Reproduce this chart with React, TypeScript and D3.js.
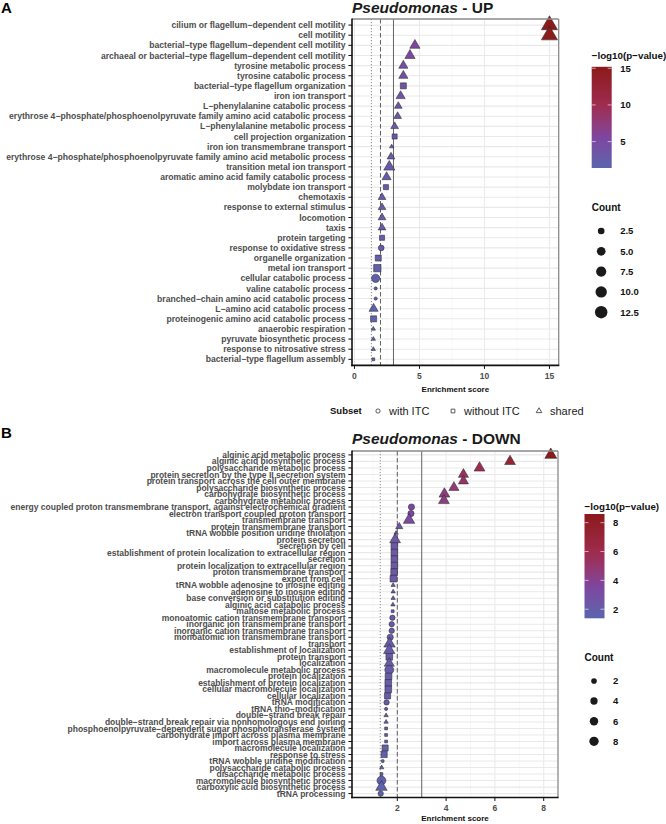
import React from 'react';
import * as d3 from 'd3';

// ---------- Pseudomonas - UP ----------
const upTerms = [
  'cilium or flagellum\u2212dependent cell motility',
  'cell motility',
  'bacterial\u2212type flagellum\u2212dependent cell motility',
  'archaeal or bacterial\u2212type flagellum\u2212dependent cell motility',
  'tyrosine metabolic process',
  'tyrosine catabolic process',
  'bacterial\u2212type flagellum organization',
  'iron ion transport',
  'L\u2212phenylalanine catabolic process',
  'erythrose 4\u2212phosphate/phosphoenolpyruvate family amino acid catabolic process',
  'L\u2212phenylalanine metabolic process',
  'cell projection organization',
  'iron ion transmembrane transport',
  'erythrose 4\u2212phosphate/phosphoenolpyruvate family amino acid metabolic process',
  'transition metal ion transport',
  'aromatic amino acid family catabolic process',
  'molybdate ion transport',
  'chemotaxis',
  'response to external stimulus',
  'locomotion',
  'taxis',
  'protein targeting',
  'response to oxidative stress',
  'organelle organization',
  'metal ion transport',
  'cellular catabolic process',
  'valine catabolic process',
  'branched\u2212chain amino acid catabolic process',
  'L\u2212amino acid catabolic process',
  'proteinogenic amino acid catabolic process',
  'anaerobic respiration',
  'pyruvate biosynthetic process',
  'response to nitrosative stress',
  'bacterial\u2212type flagellum assembly',
];
const upScore = [15.0, 15.0, 4.65, 4.27, 3.76, 3.76, 3.76, 3.55, 3.37, 3.32, 3.09, 3.09, 2.86, 2.81, 2.68, 2.47, 2.42,
  2.12, 2.12, 2.12, 2.12, 2.12, 2.06, 1.83, 1.76, 1.63, 1.63, 1.63, 1.47, 1.47, 1.45, 1.45, 1.45, 1.45];
const upCount = [13, 13, 4, 4, 3, 3, 3, 3, 2, 2, 2, 2, 1, 2, 5, 3, 2, 2, 2, 2, 2, 2, 2, 3, 5, 5, 1, 1, 3, 3, 1, 1, 1, 1];
const upSubset = ['shared', 'shared', 'shared', 'shared', 'shared', 'shared', 'without ITC', 'shared', 'shared', 'shared',
  'shared', 'without ITC', 'shared', 'shared', 'shared', 'shared', 'without ITC', 'shared', 'shared', 'shared', 'shared',
  'without ITC', 'with ITC', 'without ITC', 'without ITC', 'with ITC', 'with ITC', 'with ITC', 'shared', 'without ITC',
  'shared', 'shared', 'shared', 'without ITC'];
const upLogP = [15.2, 15.0, 5.6, 5.3, 4.3, 4.3, 4.2, 4.0, 3.8, 3.7, 3.5, 3.5, 3.3, 3.2, 3.1, 2.9, 2.8, 2.6, 2.6, 2.6, 2.6,
  2.5, 2.4, 2.3, 2.2, 2.1, 1.9, 1.9, 1.8, 1.8, 1.6, 1.5, 1.5, 1.4];
const upXTicks = [0, 5, 10, 15];
const upXMinor = [2.5, 7.5, 12.5];
const upColourBreaks = [5, 10, 15];
const upCountBreaks = [2.5, 5.0, 7.5, 10.0, 12.5];

// ---------- Pseudomonas - DOWN ----------
const downTerms = [
  'alginic acid metabolic process',
  'alginic acid biosynthetic process',
  'polysaccharide metabolic process',
  'protein secretion by the type II secretion system',
  'protein transport across the cell outer membrane',
  'polysaccharide biosynthetic process',
  'carbohydrate biosynthetic process',
  'carbohydrate metabolic process',
  'energy coupled proton transmembrane transport, against electrochemical gradient',
  'electron transport coupled proton transport',
  'transmembrane transport',
  'protein transmembrane transport',
  'tRNA wobble position uridine thiolation',
  'protein secretion',
  'secretion by cell',
  'establishment of protein localization to extracellular region',
  'secretion',
  'protein localization to extracellular region',
  'proton transmembrane transport',
  'export from cell',
  'tRNA wobble adenosine to inosine editing',
  'adenosine to inosine editing',
  'base conversion or substitution editing',
  'alginic acid catabolic process',
  'maltose metabolic process',
  'monoatomic cation transmembrane transport',
  'inorganic ion transmembrane transport',
  'inorganic cation transmembrane transport',
  'monoatomic ion transmembrane transport',
  'transport',
  'establishment of localization',
  'protein transport',
  'localization',
  'macromolecule metabolic process',
  'protein localization',
  'establishment of protein localization',
  'cellular macromolecule localization',
  'cellular localization',
  'tRNA modification',
  'tRNA thio\u2212modification',
  'double\u2212strand break repair',
  'double\u2212strand break repair via nonhomologous end joining',
  'phosphoenolpyruvate\u2212dependent sugar phosphotransferase system',
  'carbohydrate import across plasma membrane',
  'import across plasma membrane',
  'macromolecule localization',
  'response to stress',
  'tRNA wobble uridine modification',
  'polysaccharide catabolic process',
  'disaccharide metabolic process',
  'macromolecule biosynthetic process',
  'carboxylic acid biosynthetic process',
  'tRNA processing',
];
const downScore = [8.29, 6.62, 5.37, 4.71, 4.71, 4.32, 3.93, 3.91, 2.58, 2.56, 2.48, 2.08, 1.95, 1.91, 1.88, 1.88, 1.88,
  1.88, 1.87, 1.84, 1.83, 1.83, 1.83, 1.82, 1.81, 1.80, 1.77, 1.77, 1.71, 1.68, 1.67, 1.67, 1.67, 1.67, 1.64, 1.63, 1.63,
  1.60, 1.56, 1.54, 1.54, 1.54, 1.54, 1.54, 1.54, 1.50, 1.46, 1.40, 1.36, 1.35, 1.35, 1.35, 1.32];
const downCount = [8, 6, 6, 5, 5, 5, 6, 6, 3, 3, 7, 2, 1, 6, 5, 5, 5, 5, 5, 5, 1, 1, 1, 1, 1, 2, 2, 2, 3, 7, 7, 5, 5, 8, 5,
  5, 5, 4, 2, 1, 1, 1, 1, 1, 1, 4, 4, 1, 1, 1, 8, 7, 2];
const downSubset = ['shared', 'shared', 'shared', 'shared', 'shared', 'shared', 'shared', 'shared', 'with ITC', 'with ITC',
  'shared', 'shared', 'shared', 'shared', 'without ITC', 'without ITC', 'without ITC', 'without ITC', 'without ITC',
  'without ITC', 'shared', 'shared', 'shared', 'shared', 'without ITC', 'with ITC', 'with ITC', 'with ITC', 'with ITC',
  'shared', 'shared', 'without ITC', 'shared', 'with ITC', 'without ITC', 'without ITC', 'without ITC', 'without ITC',
  'with ITC', 'with ITC', 'shared', 'shared', 'without ITC', 'without ITC', 'without ITC', 'without ITC', 'without ITC',
  'with ITC', 'shared', 'without ITC', 'with ITC', 'shared', 'with ITC'];
const downLogP = [8.6, 7.1, 5.9, 5.2, 5.2, 4.8, 4.4, 4.4, 3.4, 3.4, 3.2, 2.7, 2.5, 2.5, 2.4, 2.4, 2.4, 2.4, 2.4, 2.3, 2.3,
  2.3, 2.3, 2.3, 2.2, 2.2, 2.2, 2.2, 2.1, 2.1, 2.1, 2.1, 2.1, 2.1, 2.0, 2.0, 2.0, 2.0, 1.9, 1.9, 1.9, 1.9, 1.9, 1.9, 1.9,
  1.8, 1.8, 1.7, 1.6, 1.6, 1.6, 1.5, 1.37];
const downXTicks = [2, 4, 6, 8];
const downXMinor = [1, 3, 5, 7];
const downColourBreaks = [2, 4, 6, 8];
const downCountBreaks = [2, 4, 6, 8];

// significance thresholds drawn as vertical lines
const refLines = [
  { value: 1.301, dash: '1.2 1.8', colour: '#8c8c8c', width: 1 },
  { value: 2, dash: '4.5 2.5', colour: '#4d4d4d', width: 0.9 },
  { value: 3, dash: null, colour: '#555555', width: 0.9 },
];

const subsetKeys = ['with ITC', 'without ITC', 'shared'];

const FONT = "'Liberation Sans', Arial, Helvetica, sans-serif";
const GREY_TEXT = '#4d4d4d';

function markPath(kind: string, r: number): string {
  if (kind === 'shared') {
    const t = r * 1.555;
    return `M0,${-t}L${t * 0.866},${t / 2}L${-t * 0.866},${t / 2}Z`;
  }
  if (kind === 'without ITC') {
    const h = r * 0.886;
    return `M${-h},${-h}H${h}V${h}H${-h}Z`;
  }
  return `M${r},0A${r},${r} 0 1 1 ${-r},0A${r},${r} 0 1 1 ${r},0Z`;
}

function colourScale(lo: number, hi: number) {
  const s = hi - lo;
  return d3
    .scaleLinear<string>()
    .domain([lo, lo + s * 0.3, lo + s * 0.62, hi])
    .range(['#5a64ae', '#7d46a0', '#9e2c4f', '#8b1a1a'])
    .interpolate(d3.interpolateLab)
    .clamp(true);
}

function radiusScale(limits: [number, number], rRange: [number, number]) {
  const t = d3.scaleLinear().domain(limits).range([0, 1]).clamp(true);
  return (c: number) => rRange[0] + (rRange[1] - rRange[0]) * Math.sqrt(t(c));
}

type PanelProps = {
  id: string;
  letter: string;
  letterY: number;
  titleTail: string;
  titleY: number;
  terms: string[];
  score: number[];
  count: number[];
  subset: string[];
  logp: number[];
  left: number;
  right: number;
  top: number;
  bottom: number;
  xDomain: [number, number];
  xTicks: number[];
  xMinor: number[];
  labelSize: number;
  tickLabelY: number;
  axisTitleY: number;
  countLimits: [number, number];
  rRange: [number, number];
  colourBreaks: number[];
  countBreaks: number[];
  countFormat: (v: number) => string;
  legendX: number;
  barTitleY: number;
  barTop: number;
  barBottom: number;
  countTitleY: number;
  countKeyY: number[];
};

function Panel(p: PanelProps) {
  const x = d3.scaleLinear().domain(p.xDomain).range([p.left, p.right]);
  const y = d3.scalePoint<string>().domain(p.terms).range([p.top, p.bottom]).padding(0.6);
  const lo = d3.min(p.logp) as number;
  const hi = d3.max(p.logp) as number;
  const colour = colourScale(lo, hi);
  const radius = radiusScale(p.countLimits, p.rRange);
  const barY = d3.scaleLinear().domain([lo, hi]).range([p.barBottom, p.barTop]);
  const stops = d3.range(0, 1.0001, 0.05);
  const barW = 20;
  const order = d3.range(p.terms.length);

  return (
    <g>
      <defs>
        <linearGradient id={`grad-${p.id}`} x1="0" y1="1" x2="0" y2="0">
          {stops.map((s) => (
            <stop key={s} offset={s} stopColor={colour(lo + (hi - lo) * s)} />
          ))}
        </linearGradient>
      </defs>
      {/* panel letter and title */}
      <text x={1} y={p.letterY} fontFamily={FONT} fontWeight="bold" fontSize={15} fill="#000">
        {p.letter}
      </text>
      <text x={p.left} y={p.titleY} fontFamily={FONT} fontWeight="bold" fontSize={15.5} fill="#1a1a1a">
        <tspan fontStyle="italic">Pseudomonas</tspan>
        <tspan>{p.titleTail}</tspan>
      </text>

      {/* grid */}
      {p.xMinor.map((v) => (
        <line key={`mi${v}`} x1={x(v)} x2={x(v)} y1={p.top} y2={p.bottom} stroke="#f2f2f2" strokeWidth={0.6} />
      ))}
      {p.xTicks.map((v) => (
        <line key={`ma${v}`} x1={x(v)} x2={x(v)} y1={p.top} y2={p.bottom} stroke="#ebebeb" strokeWidth={1.1} />
      ))}
      {p.terms.map((t) => (
        <line key={`h${t}`} x1={p.left} x2={p.right} y1={y(t)} y2={y(t)} stroke="#e9e9e9" strokeWidth={1.1} />
      ))}

      {/* threshold lines */}
      {refLines.map((r) => (
        <line
          key={`r${r.value}`}
          x1={x(r.value)}
          x2={x(r.value)}
          y1={p.top}
          y2={p.bottom}
          stroke={r.colour}
          strokeWidth={r.width}
          strokeDasharray={r.dash ?? undefined}
        />
      ))}

      {/* points */}
      {order.map((i) => (
        <path
          key={`pt${i}`}
          d={markPath(p.subset[i], radius(p.count[i]))}
          transform={`translate(${x(p.score[i])},${y(p.terms[i])})`}
          fill={colour(p.logp[i])}
          stroke="#2b2b2b"
          strokeWidth={0.55}
        />
      ))}

      {/* frame */}
      <line x1={p.left} x2={p.right} y1={p.top} y2={p.top} stroke="#8a8a8a" strokeWidth={1.3} />
      <line x1={p.right} x2={p.right} y1={p.top} y2={p.bottom} stroke="#8a8a8a" strokeWidth={1.3} />
      <line x1={p.left} x2={p.left} y1={p.top - 0.6} y2={p.bottom + 0.8} stroke="#111" strokeWidth={1.6} />
      <line x1={p.left - 0.8} x2={p.right + 0.6} y1={p.bottom} y2={p.bottom} stroke="#111" strokeWidth={1.6} />

      {/* y axis */}
      {p.terms.map((t) => (
        <g key={`yl${t}`}>
          <line x1={p.left - 3.6} x2={p.left} y1={y(t)} y2={y(t)} stroke="#111" strokeWidth={1} />
          <text
            x={p.left - 6.5}
            y={y(t)}
            dy="0.36em"
            textAnchor="end"
            fontFamily={FONT}
            fontWeight="bold"
            fontSize={p.labelSize}
            fill={GREY_TEXT}
          >
            {t}
          </text>
        </g>
      ))}

      {/* x axis */}
      {p.xTicks.map((v) => (
        <g key={`xt${v}`}>
          <line x1={x(v)} x2={x(v)} y1={p.bottom} y2={p.bottom + 3.5} stroke="#111" strokeWidth={1} />
          <text
            x={x(v)}
            y={p.tickLabelY}
            dy="0.36em"
            textAnchor="middle"
            fontFamily={FONT}
            fontWeight="bold"
            fontSize={8.5}
            fill={GREY_TEXT}
          >
            {v}
          </text>
        </g>
      ))}
      <text
        x={(p.left + p.right) / 2}
        y={p.axisTitleY}
        dy="0.36em"
        textAnchor="middle"
        fontFamily={FONT}
        fontWeight="bold"
        fontSize={8}
        fill="#111"
      >
        Enrichment score
      </text>

      {/* colour bar legend */}
      <text x={p.legendX} y={p.barTitleY} dy="0.36em" fontFamily={FONT} fontWeight="bold" fontSize={9.8} fill="#111">
        {'\u2212log10(p\u2212value)'}
      </text>
      <rect x={p.legendX} y={p.barTop} width={barW} height={p.barBottom - p.barTop} fill={`url(#grad-${p.id})`} />
      {p.colourBreaks.map((b) => (
        <g key={`cb${b}`}>
          <line x1={p.legendX} x2={p.legendX + 4} y1={barY(b)} y2={barY(b)} stroke="#fff" strokeOpacity={0.75} strokeWidth={0.8} />
          <line x1={p.legendX + barW - 4} x2={p.legendX + barW} y1={barY(b)} y2={barY(b)} stroke="#fff" strokeOpacity={0.75} strokeWidth={0.8} />
          <text x={p.legendX + barW + 8.5} y={barY(b)} dy="0.36em" fontFamily={FONT} fontWeight="bold" fontSize={9.5} fill="#111">
            {b}
          </text>
        </g>
      ))}

      {/* count legend */}
      <text x={p.legendX} y={p.countTitleY} dy="0.36em" fontFamily={FONT} fontWeight="bold" fontSize={10} fill="#111">
        Count
      </text>
      {p.countBreaks.map((b, i) => (
        <g key={`cn${b}`}>
          <circle cx={p.legendX + 9.5} cy={p.countKeyY[i]} r={radius(b) * 1.05} fill="#1a1a1a" />
          <text x={p.legendX + barW + 8.5} y={p.countKeyY[i]} dy="0.36em" fontFamily={FONT} fontWeight="bold" fontSize={9.5} fill="#111">
            {p.countFormat(b)}
          </text>
        </g>
      ))}
    </g>
  );
}

function SubsetLegend() {
  const yc = 411;
  const xs = [378, 453, 539];
  return (
    <g>
      <text x={330} y={yc} dy="0.36em" fontFamily={FONT} fontWeight="bold" fontSize={9.5} fill="#111">
        Subset
      </text>
      {subsetKeys.map((k, i) => (
        <g key={k}>
          <path
            d={markPath(k, 2.1)}
            transform={`translate(${xs[i]},${yc})`}
            fill="none"
            stroke="#333"
            strokeWidth={0.8}
          />
          <text x={xs[i] + 11} y={yc} dy="0.36em" fontFamily={FONT} fontSize={11} fill="#1a1a1a">
            {k}
          </text>
        </g>
      ))}
    </g>
  );
}

export default function App() {
  return (
    <svg
      width={666}
      height={824}
      viewBox="0 0 666 824"
      style={{ position: 'absolute', left: 0, top: 0, display: 'block', background: '#fff' }}
    >
      <rect width={666} height={824} fill="#fff" />
      <Panel
        id="up"
        letter="A"
        letterY={13}
        titleTail=" - UP"
        titleY={12.5}
        terms={upTerms}
        score={upScore}
        count={upCount}
        subset={upSubset}
        logp={upLogP}
        left={352}
        right={558.7}
        top={19}
        bottom={365.4}
        xDomain={[-0.19, 15.71]}
        xTicks={upXTicks}
        xMinor={upXMinor}
        labelSize={8.6}
        tickLabelY={376}
        axisTitleY={389}
        countLimits={[1, 13]}
        rRange={[1.6, 6.0]}
        colourBreaks={upColourBreaks}
        countBreaks={upCountBreaks}
        countFormat={(v) => v.toFixed(1)}
        legendX={591.7}
        barTitleY={55}
        barTop={66.8}
        barBottom={168}
        countTitleY={207.3}
        countKeyY={[231, 251.3, 271.6, 291.9, 312.2]}
      />
      <SubsetLegend />
      <Panel
        id="down"
        letter="B"
        letterY={438}
        titleTail=" - DOWN"
        titleY={444}
        terms={downTerms}
        score={downScore}
        count={downCount}
        subset={downSubset}
        logp={downLogP}
        left={352}
        right={558}
        top={451}
        bottom={797.5}
        xDomain={[0.143, 8.586]}
        xTicks={downXTicks}
        xMinor={downXMinor}
        labelSize={8.5}
        tickLabelY={808}
        axisTitleY={818.5}
        countLimits={[1, 8]}
        rRange={[1.6, 4.45]}
        colourBreaks={downColourBreaks}
        countBreaks={downCountBreaks}
        countFormat={(v) => String(v)}
        legendX={584.5}
        barTitleY={506}
        barTop={514}
        barBottom={618.3}
        countTitleY={657.7}
        countKeyY={[681, 701, 721.3, 741.3]}
      />
    </svg>
  );
}
